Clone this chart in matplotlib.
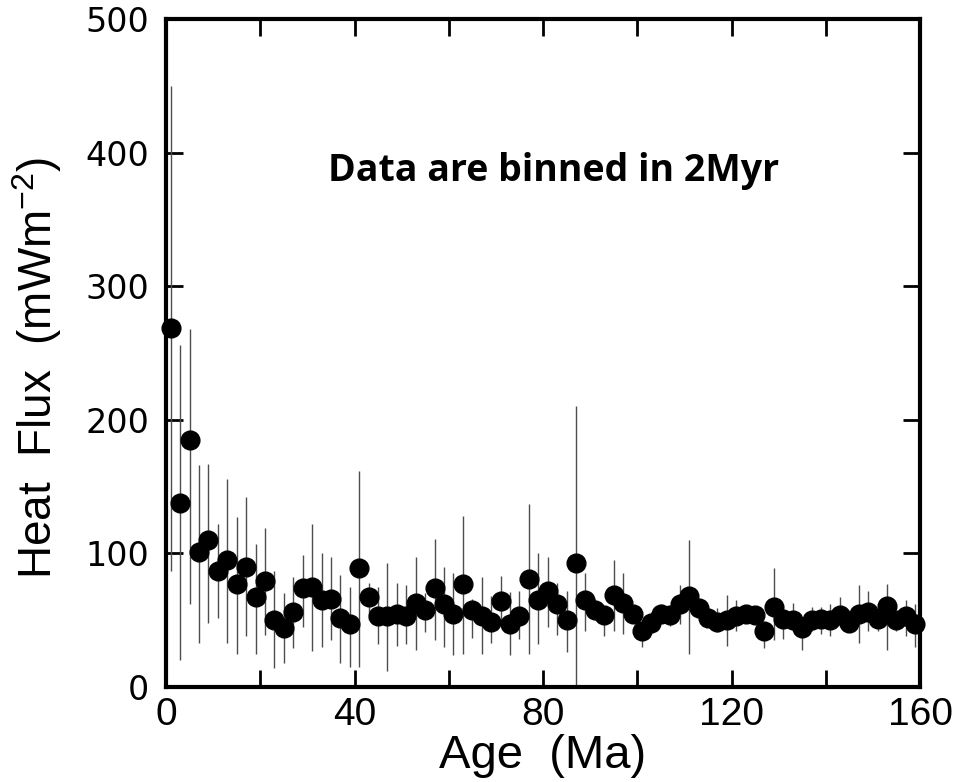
import matplotlib
matplotlib.use("Agg")
import matplotlib.pyplot as plt
import numpy as np

# ---- data ----
age = list(range(1, 160, 2))  # bin centres, Ma
heat_flux = [269, 138, 185, 101, 110, 87, 95, 77, 90, 67,
             79, 50, 44, 56, 74, 75, 65, 66, 52, 47,
             89, 67, 53, 53, 55, 53, 63, 58, 74, 62,
             55, 77, 58, 53, 49, 64, 47, 53, 81, 65,
             72, 62, 50, 93, 65, 58, 54, 69, 63, 55,
             42, 48, 55, 54, 62, 68, 59, 52, 49, 50,
             53, 55, 54, 42, 60, 51, 50, 44, 50, 51,
             50, 54, 48, 55, 56, 51, 61, 50, 53, 47]
err_upper = [450, 256, 268, 166, 167, 122, 156, 127, 142, 107,
             119, 87, 70, 82, 99, 122, 100, 97, 84, 75,
             162, 78, 75, 93, 78, 76, 97, 70, 111, 90,
             85, 128, 66, 82, 68, 83, 71, 72, 137, 100,
             97, 78, 72, 210, 85, 66, 60, 95, 85, 61,
             49, 56, 62, 60, 76, 110, 65, 58, 59, 69,
             65, 60, 57, 47, 89, 56, 63, 52, 60, 60,
             62, 67, 58, 76, 72, 60, 77, 57, 65, 62]
err_lower = [87, 20, 62, 33, 48, 52, 33, 25, 38, 25,
             39, 14, 18, 29, 45, 27, 30, 35, 18, 15,
             15, 50, 32, 12, 31, 32, 28, 41, 35, 30,
             24, 25, 37, 25, 33, 45, 24, 36, 25, 32,
             45, 39, 26, 0, 42, 50, 38, 42, 40, 50,
             30, 40, 48, 46, 47, 25, 52, 45, 41, 31,
             42, 48, 50, 29, 35, 36, 42, 28, 42, 40,
             38, 45, 42, 33, 42, 42, 28, 42, 38, 30]

x_ticks = [0, 20, 40, 60, 80, 100, 120, 140, 160]
x_ticklabels = ["0", "", "40", "", "80", "", "120", "", "160"]
y_ticks = [0, 100, 200, 300, 400, 500]
y_ticklabels = ["0", "100", "200", "300", "400", "500"]

plt.rcParams['font.family'] = ['Liberation Sans', 'DejaVu Sans']
plt.rcParams['mathtext.default'] = 'regular'

fig = plt.figure(figsize=(9.55, 7.82), dpi=100)
ax = fig.add_axes([166/955, 1 - 687/782, (920-166)/955, (687-19)/782])

y = np.array(heat_flux)
lo = y - np.array(err_lower)
hi = np.array(err_upper) - y
ax.errorbar(age, heat_flux, yerr=[lo, hi], fmt='none', ecolor='0.3',
            elinewidth=1.0, capsize=0, zorder=2, clip_on=False)
ax.plot(age, heat_flux, 'o', color='black', markersize=13.5, zorder=3,
        clip_on=False)

ax.set_xlim(0, 160)
ax.set_ylim(0, 500)

for s in ax.spines.values():
    s.set_linewidth(3.0)

ax.set_xticks(x_ticks)
ax.set_xticklabels(x_ticklabels)
ax.set_yticks(y_ticks)
ax.set_yticklabels(y_ticklabels)
ax.tick_params(direction='in', length=12, width=2.0, top=True, right=True)
ax.tick_params(axis='x', pad=7)
ax.tick_params(axis='y', pad=12)
for t in ax.get_xticklabels():
    t.set_fontsize(28)
for t in ax.get_yticklabels():
    t.set_fontsize(24)
    t.set_family('DejaVu Sans')

ax.set_xlabel('Age  (Ma)', fontsize=34, labelpad=1)
ax.set_ylabel('Heat  Flux  (mWm$^{-2}$)', fontsize=33)
ax.yaxis.set_label_coords(-0.135, 0.478)

ax.text(82.3, 386, 'Data are binned in 2Myr', fontsize=27, fontweight='bold',
        family='Open Sans', ha='center', va='center')

fig.savefig('out.png', dpi=100)
